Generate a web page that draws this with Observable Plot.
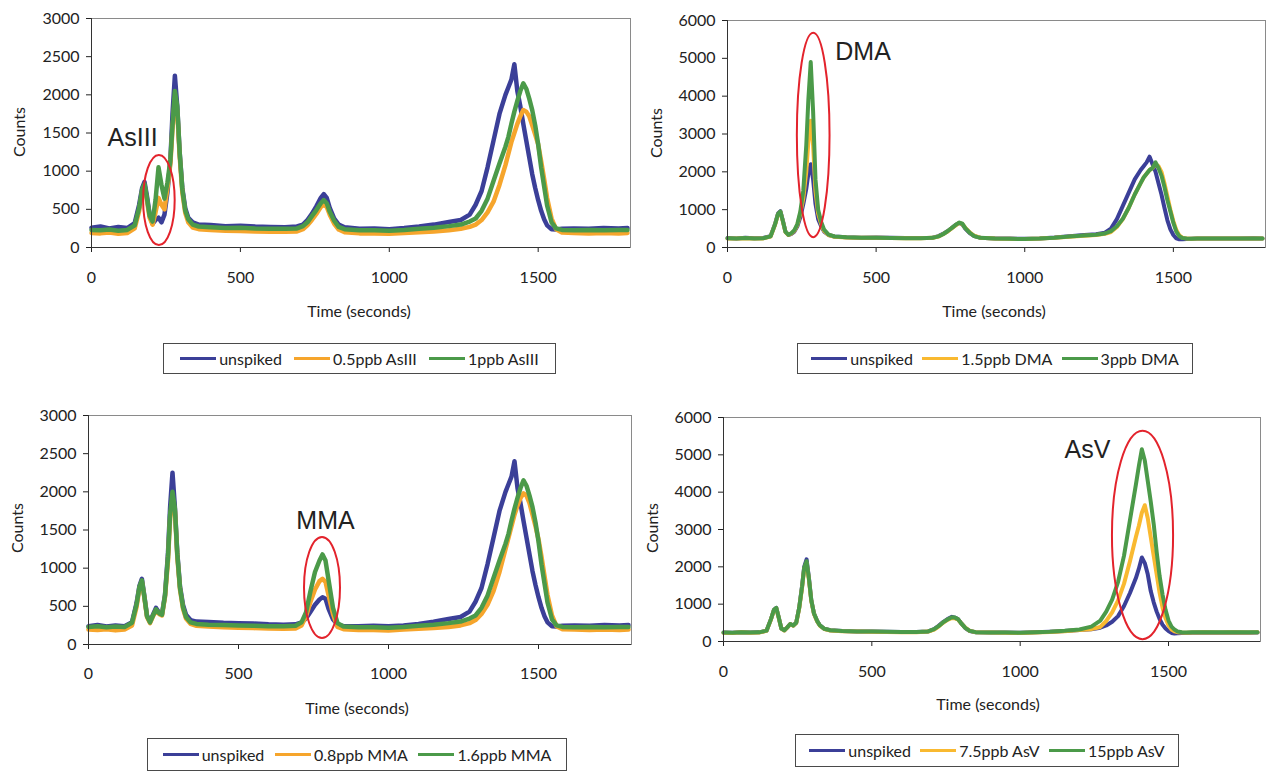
<!DOCTYPE html>
<html>
<head>
<meta charset="utf-8">
<script src="https://cdn.jsdelivr.net/npm/d3@7"></script>
<script src="https://cdn.jsdelivr.net/npm/@observablehq/plot@0.6"></script>
<style>
  html, body { margin: 0; padding: 0; background: #fff; }
  #root { position: relative; width: 1266px; height: 771px; overflow: hidden; font-family: Lato, "Open Sans", sans-serif; color: #222; }
  .panel { position: absolute; }
  .title { position: absolute; font-size: 16px; white-space: nowrap; transform: translate(-50%, -50%); color: #222; }
  .ytitle { transform: translate(-50%, -50%) rotate(-90deg); }
  .legend { position: absolute; box-sizing: border-box; border: 1px solid #4a4a4a; display: flex; align-items: center; justify-content: space-evenly; font-size: 16px; background: #fff; padding: 0 4px; }
  .item { display: flex; align-items: center; white-space: nowrap; }
  .sw { display: inline-block; width: 36px; height: 2.5px; margin-right: 3px; }
</style>
</head>
<body>
<div id="root"></div>
<script>
// Shared sampling times (seconds)
const times = [0,30,60,90,120,145,160,170,178,186,
  195,205,215,225,235,245,255,265,272,280,
  288,296,305,315,325,340,360,400,450,500,
  550,600,650,690,710,725,740,755,770,780,
  790,800,815,830,850,900,950,1000,1050,1100,
  1150,1200,1240,1270,1290,1310,1330,1350,1370,1390,
  1400,1410,1420,1430,1440,1450,1460,1470,1480,1490,
  1500,1510,1520,1530,1545,1560,1580,1620,1670,1720,1770,1800];

// Panel 1: AsIII spikes
const asIII_unspiked = [260,275,250,270,255,320,560,780,860,680,
  440,310,360,390,330,430,720,1150,1750,2250,
  1850,1250,780,510,390,330,300,295,280,285,
  275,270,265,275,300,360,440,540,650,700,
  650,520,380,300,265,245,250,240,255,275,
  300,335,360,430,560,740,1050,1400,1750,2000,
  2100,2200,2400,2050,1850,1620,1400,1180,960,780,
  620,480,370,290,240,235,245,250,245,255,250,255];
const asIII_05 = [190,185,195,180,190,250,480,730,800,620,
  390,300,460,650,560,500,780,1100,1550,1950,
  1780,1200,720,450,330,260,240,230,220,215,
  210,205,205,210,240,290,360,440,530,560,
  530,430,310,235,200,185,185,180,190,200,
  210,225,245,270,300,360,460,600,820,1080,
  1230,1380,1500,1620,1720,1800,1780,1720,1600,1480,
  1350,1130,900,650,380,240,195,190,185,190,185,190];
const asIII_1 = [230,225,235,220,230,290,520,760,830,650,
  420,340,620,1050,820,640,850,1150,1600,2050,
  1850,1250,760,480,370,300,275,265,255,260,
  250,245,245,250,280,330,410,490,580,620,
  580,470,350,270,240,225,225,220,230,245,
  260,280,300,340,380,480,640,870,1100,1320,
  1450,1620,1780,1920,2050,2150,2080,1950,1800,1600,
  1350,1050,800,550,330,250,230,225,230,225,230,230];

// Panel 2: DMA spikes
const dma_unspiked = [250,240,255,245,250,300,620,900,960,720,
  420,330,360,420,560,800,1150,1550,1950,2200,
  1800,1150,750,560,420,330,290,270,260,265,
  255,250,250,260,300,360,430,520,610,650,
  610,500,380,300,260,240,235,230,240,265,
  300,330,350,390,500,750,1100,1450,1800,2050,
  2150,2250,2400,2200,2000,1700,1400,1050,720,480,
  330,240,215,220,225,230,235,240,235,240,245,240];
const dma_15 = [240,235,245,235,240,290,600,880,940,700,
  410,330,370,440,600,900,1300,2000,2800,3350,
  2700,1500,900,620,440,330,285,265,255,260,
  250,245,245,255,290,350,420,510,600,650,
  620,520,400,310,260,235,230,225,235,255,
  285,310,330,360,410,540,750,1050,1400,1700,
  1850,1950,2050,2100,2200,2150,2000,1700,1350,1000,
  700,460,320,260,235,230,235,240,235,240,235,240];
const dma_3 = [245,240,250,240,245,295,610,890,950,710,
  415,335,380,460,620,950,1500,2700,3900,4900,
  3600,1800,1000,680,470,340,290,270,255,260,
  250,245,245,255,295,350,430,520,610,660,
  630,510,390,300,255,235,230,225,235,255,
  290,315,335,370,430,560,760,1050,1400,1700,
  1850,1950,2050,2100,2250,2100,1900,1600,1250,950,
  650,420,300,250,235,230,235,240,235,240,235,240];

// Panel 3: MMA spikes
const mma_unspiked = [240,255,235,250,240,290,540,770,860,640,
  380,300,390,480,420,400,650,1200,1800,2250,
  1800,1200,760,520,390,320,300,295,285,280,
  275,265,260,265,290,340,430,520,590,620,
  600,470,330,260,240,240,245,240,250,270,
  300,335,360,430,560,740,1050,1400,1750,2000,
  2100,2200,2400,2050,1850,1620,1400,1180,960,780,
  620,480,370,290,240,235,245,250,245,255,250,255];
const mma_08 = [195,190,200,185,195,250,490,740,820,620,
  360,280,370,450,400,380,620,1100,1650,1900,
  1750,1150,720,470,340,270,245,235,225,220,
  215,210,205,210,250,370,560,720,830,860,
  820,650,400,230,200,190,190,185,195,205,
  215,230,250,280,320,400,520,700,950,1250,
  1400,1550,1700,1820,1920,1980,1950,1850,1700,1550,
  1380,1150,900,650,380,240,200,195,190,195,190,195];
const mma_16 = [230,240,225,235,230,285,520,760,840,630,
  370,290,380,460,410,390,640,1150,1700,2000,
  1780,1180,740,490,360,290,270,260,255,250,
  245,240,240,245,290,420,700,950,1100,1180,
  1100,850,480,280,235,225,225,220,230,245,
  260,280,300,340,380,480,640,870,1100,1320,
  1450,1620,1780,1920,2050,2150,2080,1950,1800,1600,
  1350,1050,800,550,330,250,230,225,230,225,230,230];

// Panel 4: AsV spikes
const asV_unspiked = [240,235,250,240,245,290,600,850,900,650,
  350,300,380,470,430,500,900,1500,2000,2200,
  1700,1100,750,560,430,340,300,280,270,265,
  260,255,255,270,330,420,520,600,660,640,
  600,500,360,280,250,240,240,235,245,260,
  280,310,330,370,430,530,680,950,1300,1700,
  1950,2250,2100,1800,1350,1050,800,600,450,350,
  280,230,215,220,225,230,235,240,235,240,235,240];
const asV_75 = [235,230,245,235,240,285,590,840,890,640,
  345,295,375,465,425,495,880,1450,1950,2100,
  1650,1080,740,550,420,335,295,275,265,260,
  255,250,250,265,320,400,500,580,630,620,
  590,500,370,285,250,240,235,230,240,255,
  275,305,330,390,550,780,1100,1550,2150,2800,
  3100,3450,3650,3300,2800,2300,1800,1300,900,620,
  430,320,270,250,240,235,240,245,240,245,240,245];
const asV_15 = [240,235,250,240,245,290,600,850,900,650,
  350,300,380,470,430,500,900,1480,1980,2150,
  1680,1100,750,560,430,340,300,280,270,265,
  260,255,255,270,330,410,510,590,650,640,
  600,500,365,285,250,240,240,235,245,260,
  285,320,400,560,800,1120,1600,2300,3250,4200,
  4700,5150,4850,4300,3750,3150,2400,1750,1250,850,
  560,400,320,270,250,240,245,250,245,250,245,250];

// Legend labels
const legendAsIII = ["unspiked", "0.5ppb AsIII", "1ppb AsIII"];
const legendDMA = ["unspiked", "1.5ppb DMA", "3ppb DMA"];
const legendMMA = ["unspiked", "0.8ppb MMA", "1.6ppb MMA"];
const legendAsV = ["unspiked", "7.5ppb AsV", "15ppb AsV"];

// Tick values
const xTicks = [0, 500, 1000, 1500];
const yTicks3000 = [0, 500, 1000, 1500, 2000, 2500, 3000];
const yTicks6000 = [0, 1000, 2000, 3000, 4000, 5000, 6000];

// Annotations (label position in data units) and highlight ellipses (center, half-width, half-height)
const annotations = [
  {label: "AsIII", t: 138, v: 1430},
  {label: "DMA", t: 456, v: 5180},
  {label: "MMA", t: 790, v: 1620},
  {label: "AsV", t: 1227, v: 5140}
];
const ellipses = [
  {t: 228, v: 616, dt: 53, dv: 590},
  {t: 290, v: 2960, dt: 55, dv: 2700},
  {t: 780, v: 740, dt: 60, dv: 662},
  {t: 1414, v: 2840, dt: 103, dv: 2790}
];

const blue = "#3b3f98", green = "#4b9a49";
const orangeWarm = "#f6a52c", orangeYellow = "#f9b930";

const panels = [
  {left: 0, top: 0, ml: 91, mr: 3, mt: 18, mb: 83, ymax: 3000, yTicks: yTicks3000, xpad: 19, sw: 4.5,
   colors: [blue, orangeWarm, green],
   series: [asIII_unspiked, asIII_05, asIII_1], labels: legendAsIII,
   legend: [163, 343, 393, 31], xTitle: [359, 310], yTitle: [18, 132]},
  {left: 633, top: 0, ml: 94, mr: 1, mt: 20, mb: 83, ymax: 6000, yTicks: yTicks6000, xpad: 19, sw: 4,
   colors: [blue, orangeYellow, green],
   series: [dma_unspiked, dma_15, dma_3], labels: legendDMA,
   legend: [797, 343, 396, 31], xTitle: [994, 310], yTitle: [655, 133]},
  {left: 0, top: 385, ml: 88, mr: 2, mt: 30, mb: 71, ymax: 3000, yTicks: yTicks3000, xpad: 18, sw: 4.5,
   colors: [blue, orangeWarm, green],
   series: [mma_unspiked, mma_08, mma_16], labels: legendMMA,
   legend: [147, 738, 420, 33], xTitle: [357, 707], yTitle: [16, 528]},
  {left: 633, top: 385, ml: 90, mr: 6, mt: 32, mb: 74, ymax: 6000, yTicks: yTicks6000, xpad: 19, sw: 4,
   colors: [blue, orangeYellow, green],
   series: [asV_unspiked, asV_75, asV_15], labels: legendAsV,
   legend: [795, 734, 384, 33], xTitle: [988, 703], yTitle: [651, 528]}
];

const root = document.getElementById("root");
const ns = "http://www.w3.org/2000/svg";

panels.forEach((p, idx) => {
  const lineMarks = p.series.map((vals, k) =>
    Plot.line(times.map((t, i) => ({t, v: vals[i]})), {
      x: "t", y: "v", stroke: p.colors[k], strokeWidth: p.sw,
      strokeLinejoin: "round", strokeLinecap: "round"
    }));
  const ann = annotations[idx];
  const plot = Plot.plot({
    width: 633, height: 330,
    marginLeft: p.ml, marginRight: p.mr, marginTop: p.mt, marginBottom: p.mb,
    style: {fontFamily: "Lato, 'Open Sans', sans-serif", fontSize: "16px", color: "#222", background: "transparent", overflow: "visible"},
    x: {domain: [0, 1810], ticks: xTicks, tickSize: 5, tickPadding: p.xpad, label: null, tickFormat: d => String(d)},
    y: {domain: [0, p.ymax], ticks: p.yTicks, tickSize: 5, tickPadding: 7, label: null, tickFormat: d => String(d)},
    marks: [
      ...lineMarks,
      Plot.frame({stroke: "#8a8a8a"}),
      Plot.ruleY([0], {stroke: "#333"}),
      Plot.ruleX([0], {stroke: "#333"}),
      Plot.text([ann], {x: "t", y: "v", text: "label", fontSize: 25, fontFamily: "'Liberation Sans', Arial, sans-serif", fill: "#222"})
    ]
  });
  // highlight ellipse, placed through the plot's scales
  const e = ellipses[idx];
  const sx = plot.scale("x"), sy = plot.scale("y");
  const el = document.createElementNS(ns, "ellipse");
  el.setAttribute("cx", sx.apply(e.t));
  el.setAttribute("cy", sy.apply(e.v));
  el.setAttribute("rx", Math.abs(sx.apply(e.t + e.dt) - sx.apply(e.t)));
  el.setAttribute("ry", Math.abs(sy.apply(e.v + e.dv) - sy.apply(e.v)));
  el.setAttribute("fill", "none");
  el.setAttribute("stroke", "#e3232c");
  el.setAttribute("stroke-width", "2");
  plot.appendChild(el);

  const wrap = document.createElement("div");
  wrap.className = "panel";
  wrap.style.left = p.left + "px";
  wrap.style.top = p.top + "px";
  wrap.appendChild(plot);
  root.appendChild(wrap);

  const xt = document.createElement("div");
  xt.className = "title";
  xt.textContent = "Time (seconds)";
  xt.style.left = p.xTitle[0] + "px"; xt.style.top = p.xTitle[1] + "px";
  root.appendChild(xt);

  const yt = document.createElement("div");
  yt.className = "title ytitle";
  yt.textContent = "Counts";
  yt.style.left = p.yTitle[0] + "px"; yt.style.top = p.yTitle[1] + "px";
  root.appendChild(yt);

  const lg = document.createElement("div");
  lg.className = "legend";
  lg.style.left = p.legend[0] + "px"; lg.style.top = p.legend[1] + "px";
  lg.style.width = p.legend[2] + "px"; lg.style.height = p.legend[3] + "px";
  p.labels.forEach((lab, k) => {
    const it = document.createElement("span");
    it.className = "item";
    const sw = document.createElement("span");
    sw.className = "sw";
    sw.style.background = p.colors[k];
    const tx = document.createElement("span");
    tx.textContent = lab;
    it.appendChild(sw); it.appendChild(tx);
    lg.appendChild(it);
  });
  root.appendChild(lg);
});
</script>
</body>
</html>
